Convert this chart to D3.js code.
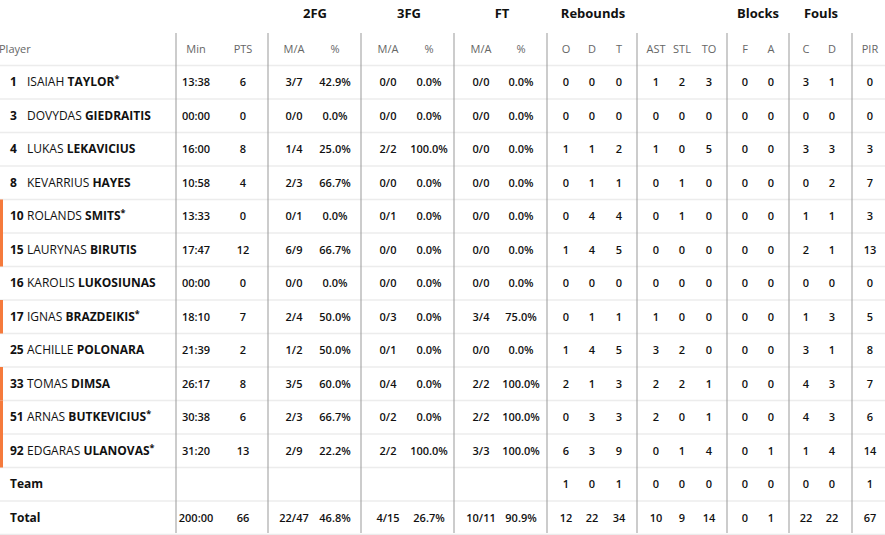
<!DOCTYPE html>
<html><head><meta charset="utf-8">
<script src="https://cdn.jsdelivr.net/npm/d3@7"></script>
<style>body{margin:0;background:#fff}text{font-family:"Open Sans",sans-serif}</style>
</head><body><svg width="885" height="535"></svg>
<script>
const nums = ["1","3","4","8","10","15","16","17","25","33","51","92"];
const firstNames = ["ISAIAH","DOVYDAS","LUKAS","KEVARRIUS","ROLANDS","LAURYNAS","KAROLIS","IGNAS","ACHILLE","TOMAS","ARNAS","EDGARAS"];
const lastNames = ["TAYLOR","GIEDRAITIS","LEKAVICIUS","HAYES","SMITS","BIRUTIS","LUKOSIUNAS","BRAZDEIKIS","POLONARA","DIMSA","BUTKEVICIUS","ULANOVAS"];
const starters = [1,0,0,0,1,0,0,1,0,0,1,1];
const marked = [0,0,0,0,1,1,0,1,0,1,1,1];
const mins = ["13:38","00:00","16:00","10:58","13:33","17:47","00:00","18:10","21:39","26:17","30:38","31:20"];
const pts = [6,0,8,4,0,12,0,7,2,8,6,13];
const fg2 = ["3/7","0/0","1/4","2/3","0/1","6/9","0/0","2/4","1/2","3/5","2/3","2/9"];
const fg2p = ["42.9%","0.0%","25.0%","66.7%","0.0%","66.7%","0.0%","50.0%","50.0%","60.0%","66.7%","22.2%"];
const fg3 = ["0/0","0/0","2/2","0/0","0/1","0/0","0/0","0/3","0/1","0/4","0/2","2/2"];
const fg3p = ["0.0%","0.0%","100.0%","0.0%","0.0%","0.0%","0.0%","0.0%","0.0%","0.0%","0.0%","100.0%"];
const ft = ["0/0","0/0","0/0","0/0","0/0","0/0","0/0","3/4","0/0","2/2","2/2","3/3"];
const ftp = ["0.0%","0.0%","0.0%","0.0%","0.0%","0.0%","0.0%","75.0%","0.0%","100.0%","100.0%","100.0%"];
const reb_o = [0,0,1,0,0,1,0,0,1,2,0,6];
const reb_d = [0,0,1,1,4,4,0,1,4,1,3,3];
const reb_t = [0,0,2,1,4,5,0,1,5,3,3,9];
const ast = [1,0,1,0,0,0,0,1,3,2,2,0];
const stl = [2,0,0,1,1,0,0,0,2,2,0,1];
const tov = [3,0,5,0,0,0,0,0,0,1,1,4];
const blk_f = [0,0,0,0,0,0,0,0,0,0,0,0];
const blk_a = [0,0,0,0,0,0,0,0,0,0,0,1];
const foul_c = [3,0,3,0,1,2,0,1,3,4,4,1];
const foul_d = [1,0,3,2,1,1,0,3,1,3,3,4];
const pir = [0,0,3,7,3,13,0,5,8,7,6,14];
const teamRow = ["","","","","","","","",1,0,1,0,0,0,0,0,0,0,1];
const totalRow = ["200:00",66,"22/47","46.8%","4/15","26.7%","10/11","90.9%",12,22,34,10,9,14,0,1,22,22,67];

const colLabels = ["Min","PTS","M/A","%","M/A","%","M/A","%","O","D","T","AST","STL","TO","F","A","C","D","PIR"];
const colX = [196,243,294,335,388,429,481,521,566,592,619,656,682,709,745,771,806,832,870];
const groups = ["2FG","3FG","FT","Rebounds","Blocks","Fouls"];
const groupX = [315,409,502,593,758,821];
const dividers = [176,268,361,454,547,637,727,789,852];

const cols = [mins,pts,fg2,fg2p,fg3,fg3p,ft,ftp,reb_o,reb_d,reb_t,ast,stl,tov,blk_f,blk_a,foul_c,foul_d,pir];
const rows = nums.map((n,i) => cols.map(c => c[i]));
rows.push(teamRow, totalRow);

const svg = d3.select("svg");
const y = d3.scaleLinear().domain([0,1]).range([82, 115.5]);

// row separators
svg.selectAll(".sep").data(d3.range(rows.length + 1)).join("line")
  .attr("x1",0).attr("x2",885)
  .attr("y1",i => y(i) - 16.5).attr("y2",i => y(i) - 16.5)
  .attr("stroke","#ececec").attr("stroke-width",1.5);

svg.selectAll(".div").data(dividers).join("line")
  .attr("x1",d=>d).attr("x2",d=>d).attr("y1",33).attr("y2",533)
  .attr("stroke","#999").attr("stroke-width",1);

svg.selectAll(".mark").data(marked.map((m,i)=>[m,i]).filter(d=>d[0])).join("rect")
  .attr("x",0).attr("width",3).attr("y",d=>y(d[1])-16.5).attr("height",33.5)
  .attr("fill","#f57a3c");

svg.selectAll(".grp").data(groups).join("text")
  .attr("x",(d,i)=>groupX[i]).attr("y",18).attr("text-anchor","middle")
  .attr("font-size",13).attr("font-weight",700).attr("fill","#111").text(d=>d);

svg.append("text").attr("x",-1).attr("y",53).attr("font-size",11).attr("fill","#666").text("Player");
svg.selectAll(".hdr").data(colLabels).join("text")
  .attr("x",(d,i)=>colX[i]).attr("y",53).attr("text-anchor","middle")
  .attr("font-size",11).attr("fill","#666").text(d=>d);

// names
nums.forEach((n,i) => {
  const t = svg.append("text").attr("x",10).attr("y",y(i)+4).attr("font-size",12).attr("fill","#111");
  t.append("tspan").attr("font-weight",700).text(n);
  t.append("tspan").attr("x",n.length > 1 ? 27 : 27).text(firstNames[i] + " ");
  t.append("tspan").attr("font-weight",700).text(lastNames[i]);
  if (starters[i]) t.append("tspan").attr("font-weight",700).attr("font-size",9).attr("dy",-4).text("*");
});
svg.append("text").attr("x",10).attr("y",y(12)+4).attr("font-size",12).attr("font-weight",700).attr("fill","#111").text("Team");
svg.append("text").attr("x",10).attr("y",y(13)+4).attr("font-size",12).attr("font-weight",700).attr("fill","#111").text("Total");

svg.selectAll(".row").data(rows).join("g")
  .attr("transform",(d,i)=>`translate(0,${y(i)+4})`)
  .selectAll("text").data(d=>d).join("text")
  .attr("x",(d,j)=>colX[j]).attr("text-anchor","middle")
  .attr("font-size",11).attr("font-weight",600).attr("fill","#111")
  .text(d=>d);
</script></body></html>
